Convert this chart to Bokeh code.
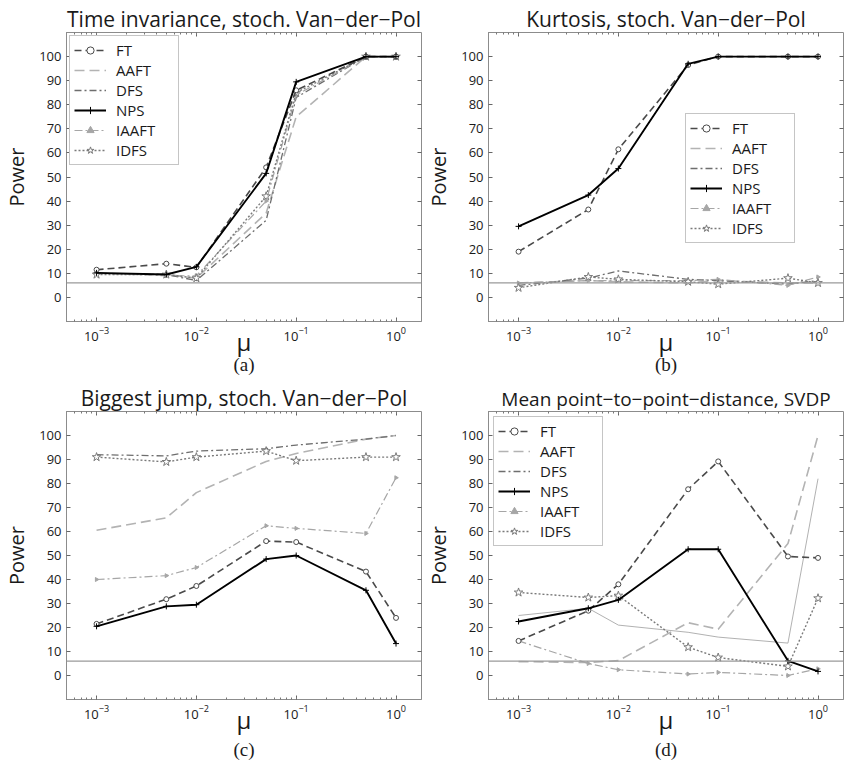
import math
from bokeh.plotting import figure
from bokeh.models import (Span, Legend, LegendItem, LogAxis, LinearAxis, FixedTicker,
                          LogTicker, Title)
from bokeh.layouts import gridplot
from bokeh.embed import file_html
from bokeh.resources import INLINE

# ---------------- data ----------------
mu = [1e-3, 5e-3, 1e-2, 5e-2, 1e-1, 5e-1, 1.0]
y_ticks = [0, 10, 20, 30, 40, 50, 60, 70, 80, 90, 100]
alpha_level = 6
methods = ["FT", "AAFT", "DFS", "NPS", "IAAFT", "IDFS"]

# (a) Time invariance
a_FT = [11.5, 14.0, 12.5, 54.0, 86.0, 100, 100]
a_AAFT = [10.0, 9.5, 8.0, 35.0, 75.0, 100, 100]
a_DFS = [10.0, 9.5, 7.0, 32.0, 83.0, 100, 100]
a_NPS = [10.2, 9.5, 12.7, 51.5, 89.5, 100, 100]
a_IAAFT = [10.0, 9.0, 9.0, 40.0, 84.0, 100, 100]
a_IDFS = [9.5, 9.5, 8.0, 42.0, 85.0, 100, 100]

# (b) Kurtosis
b_FT = [19.0, 36.5, 61.5, 96.5, 100, 100, 100]
b_AAFT = [6.0, 7.0, 6.5, 6.0, 7.0, 6.0, 6.0]
b_DFS = [5.0, 8.0, 11.0, 7.5, 7.0, 5.5, 7.0]
b_NPS = [29.5, 42.5, 53.5, 97.0, 100, 100, 100]
b_IAAFT = [6.0, 7.0, 7.0, 7.0, 7.5, 5.0, 8.5]
b_IDFS = [4.0, 8.5, 7.5, 6.5, 5.5, 8.0, 6.0]

# (c) Biggest jump
c_FT = [21.5, 31.8, 37.3, 56.0, 55.6, 43.3, 24.0]
c_AAFT = [60.5, 65.7, 76.2, 89.2, 92.5, 98.5, 100]
c_DFS = [92.0, 91.5, 93.5, 94.5, 96.0, 98.5, 100]
c_NPS = [20.5, 28.8, 29.5, 48.5, 50.0, 35.5, 13.3]
c_IAAFT = [40.0, 41.6, 45.0, 62.4, 61.3, 59.2, 82.4]
c_IDFS = [91.0, 89.0, 91.0, 93.5, 89.5, 91.0, 91.0]

# (d) Mean point-to-point distance
d_FT = [14.4, 27.0, 38.0, 77.6, 89.2, 49.6, 49.0]
d_AAFT = [5.8, 5.4, 6.2, 22.0, 19.3, 55.0, 100]
d_DFS = [25.0, 28.0, 21.0, 18.0, 16.0, 13.5, 82.0]
d_NPS = [22.5, 28.0, 31.5, 52.6, 52.6, 6.1, 1.7]
d_IAAFT = [14.4, 5.0, 2.4, 0.6, 1.3, 0.0, 2.8]
d_IDFS = [34.6, 32.5, 33.3, 11.8, 7.5, 3.8, 32.2]

# ---------------- styles ----------------
FONT = "Open Sans"
STYLE = {
    "FT": dict(color="#4a4a4a", dash="7 4", width=1.6, marker="circle", size=5, fill="white"),
    "AAFT": dict(color="#b3b3b3", dash="10 5", width=1.6, marker=None),
    "DFS": dict(color="#6e6e6e", dash="7 3 2 3", width=1.3, marker=None),
    "NPS": dict(color="#000000", dash="solid", width=1.9, marker="cross", size=6, fill="black"),
    "IAAFT": dict(color="#a6a6a6", dash="8 3 2 3", width=1.2, marker="triangle", size=4, fill="#a6a6a6"),
    "IDFS": dict(color="#7a7a7a", dash="2 2", width=1.4, marker="star", size=9, fill="white"),
}
DRAW_ORDER = ["AAFT", "DFS", "IAAFT", "IDFS", "FT", "NPS"]


def make_panel(title, sub, series, height, top, bottom, left, right,
               legend_loc=None, legend_margin=0, cap_standoff=0, title_size="21px",
               overrides=None):
    overrides = overrides or {}
    p = figure(width=422, height=height, x_axis_type="log",
               x_range=(5e-4, 1.8), y_range=(-10, 110),
               output_backend="svg", toolbar_location=None,
               min_border_left=left, min_border_right=right,
               min_border_top=top, min_border_bottom=bottom)
    p.xgrid.visible = False
    p.ygrid.visible = False
    p.outline_line_color = "#8c8c8c"
    p.background_fill_color = "white"
    p.border_fill_color = "white"

    p.title.text = title
    p.title.text_font = FONT
    p.title.text_font_size = title_size
    p.title.text_font_style = "normal"
    p.title.text_color = "#1a1a1a"
    p.title.align = "center"
    p.title.standoff = 0

    xa = p.xaxis[0]
    xa.ticker = LogTicker(num_minor_ticks=10)
    xa.axis_label = "μ"
    xa.axis_label_text_font = FONT
    xa.axis_label_text_font_size = "24px"
    xa.axis_label_text_font_style = "normal"
    xa.axis_label_text_color = "#1a1a1a"
    xa.axis_label_standoff = -19
    ya = p.yaxis[0]
    ya.ticker = FixedTicker(ticks=y_ticks)
    ya.axis_label = "Power"
    ya.axis_label_text_font = FONT
    ya.axis_label_text_font_size = "20px"
    ya.axis_label_text_font_style = "normal"
    ya.axis_label_text_color = "#1a1a1a"
    ya.axis_label_standoff = 6
    for ax in (xa, ya):
        ax.axis_line_color = "#8c8c8c"
        ax.major_tick_line_color = "#666666"
        ax.minor_tick_line_color = "#777777"
        ax.major_tick_in = 4
        ax.major_tick_out = 0
        ax.minor_tick_in = 2
        ax.minor_tick_out = 0
        ax.major_label_text_font = FONT
        ax.major_label_text_font_size = "13px"
        ax.major_label_text_color = "#1a1a1a"
        ax.major_label_standoff = 5
    ya.minor_tick_line_color = None

    top_ax = LogAxis(ticker=LogTicker(num_minor_ticks=10), major_label_text_font_size="1px",
                     major_label_text_color=None,
                     major_label_standoff=0, axis_line_color=None,
                     major_tick_line_color="#666666", minor_tick_line_color="#777777",
                     major_tick_in=4, major_tick_out=0, minor_tick_in=2, minor_tick_out=0)
    p.add_layout(top_ax, "above")
    right_ax = LinearAxis(ticker=FixedTicker(ticks=y_ticks), major_label_text_font_size="1px",
                          major_label_text_color=None,
                          major_label_standoff=0, axis_line_color=None,
                          major_tick_line_color="#666666", minor_tick_line_color=None,
                          major_tick_in=4, major_tick_out=0)
    p.add_layout(right_ax, "right")

    p.add_layout(Span(location=alpha_level, dimension="width",
                      line_color="#9a9a9a", line_width=1.2))

    rend = {}
    for m in DRAW_ORDER:
        st = dict(STYLE[m])
        st.update(overrides.get(m, {}))
        lr = p.line(mu, series[m], line_color=st["color"], line_dash=st["dash"],
                    line_width=st["width"])
        rs = [lr]
        if st.get("marker"):
            sr = p.scatter(mu, series[m], marker=st["marker"], size=st["size"],
                           line_color=st["color"], fill_color=st["fill"], line_width=1,
                           angle=(-math.pi / 2 if st["marker"] == "triangle" else 0))
            rs.append(sr)
        if m in overrides:
            base = STYLE[m]
            dummy = p.line([1e-6, 2e-6], [-50, -50], line_color=base["color"],
                           line_dash=base["dash"], line_width=base["width"])
            rs = [dummy]
        rend[m] = rs

    if legend_loc is not None:
        items = [LegendItem(label=m, renderers=rend[m]) for m in methods]
        lg = Legend(items=items, location=legend_loc)
        lg.label_text_font = FONT
        lg.label_text_font_size = "15px"
        lg.label_text_color = "#1a1a1a"
        lg.glyph_width = 32
        lg.glyph_height = 18
        lg.label_height = 18
        lg.label_width = 58
        lg.label_standoff = 10
        lg.spacing = 0
        lg.padding = 4
        lg.margin = legend_margin
        lg.border_line_color = "#8c8c8c"
        lg.border_line_width = 1
        lg.background_fill_color = "white"
        lg.background_fill_alpha = 1
        p.add_layout(lg)

    cap = Title(text=sub, align="center", text_font="Liberation Serif",
                text_font_size="19px", text_font_style="normal", text_color="#1a1a1a",
                standoff=cap_standoff)
    p.add_layout(cap, "below")
    return p


def ser(FT, AAFT, DFS, NPS, IAAFT, IDFS):
    return {"FT": FT, "AAFT": AAFT, "DFS": DFS, "NPS": NPS, "IAAFT": IAAFT, "IDFS": IDFS}


pa = make_panel("Time invariance, stoch. Van\u2212der\u2212Pol", "(a)",
                ser(a_FT, a_AAFT, a_DFS, a_NPS, a_IAAFT, a_IDFS),
                380, 32, 59, 58, 1, legend_loc="top_left", legend_margin=3,
                cap_standoff=-17)
pb = make_panel("Kurtosis, stoch. Van\u2212der\u2212Pol", "(b)",
                ser(b_FT, b_AAFT, b_DFS, b_NPS, b_IAAFT, b_IDFS),
                380, 32, 59, 60, 1, legend_loc=(197, 78), cap_standoff=-17)
pc = make_panel("Biggest jump, stoch. Van\u2212der\u2212Pol", "(c)",
                ser(c_FT, c_AAFT, c_DFS, c_NPS, c_IAAFT, c_IDFS),
                387, 31, 68, 58, 1, cap_standoff=-4)
pd_ = make_panel("Mean point\u2212to\u2212point\u2212distance, SVDP", "(d)",
                 ser(d_FT, d_AAFT, d_DFS, d_NPS, d_IAAFT, d_IDFS),
                 387, 31, 68, 60, 1, legend_loc="top_left", legend_margin=5,
                 cap_standoff=-4, title_size="19px",
                 overrides={"DFS": dict(color="#a8a8a8", dash="solid", width=0.9)})

grid = gridplot([[pa, pb], [pc, pd_]], toolbar_location=None)
open("out.html", "w").write(file_html(grid, INLINE))
